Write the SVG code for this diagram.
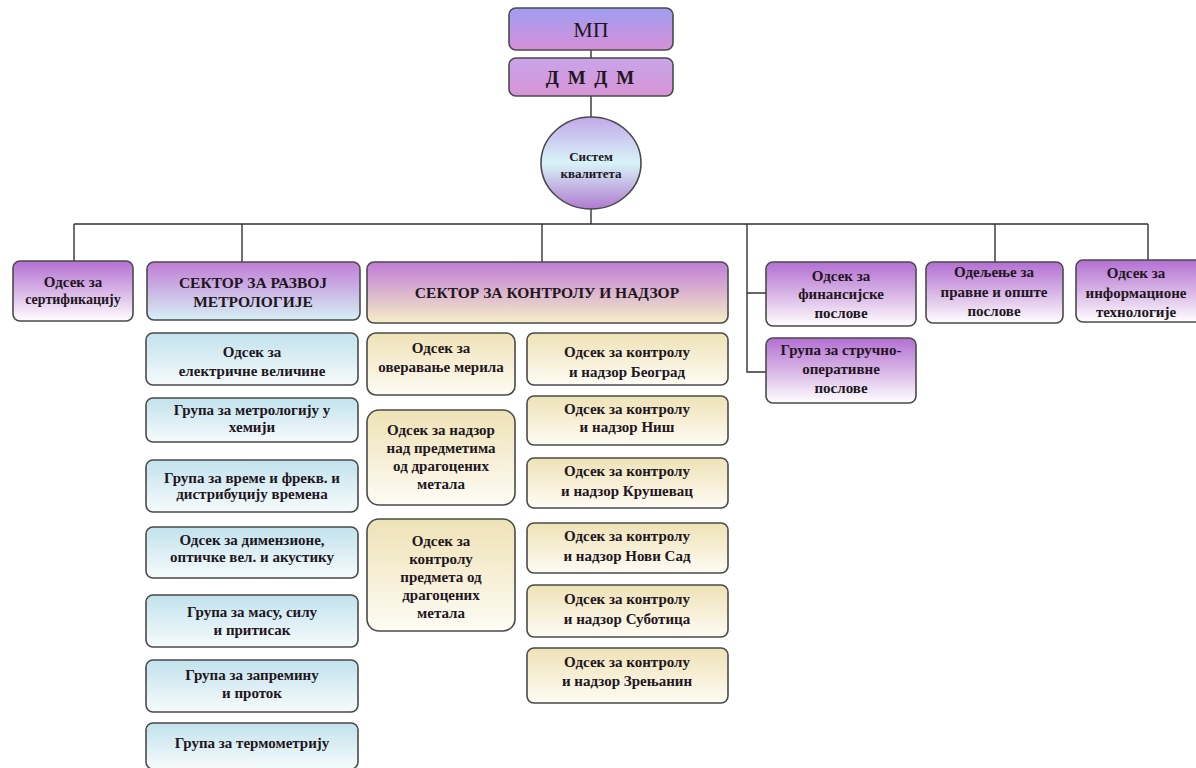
<svg xmlns="http://www.w3.org/2000/svg" width="1196" height="768" viewBox="0 0 1196 768">
<defs>
<linearGradient id="gTop" x1="0" y1="0" x2="0" y2="1"><stop offset="0" stop-color="#9e9ef2"/><stop offset="1" stop-color="#d690d8"/></linearGradient>
<linearGradient id="gTop2" x1="0" y1="0" x2="0" y2="1"><stop offset="0" stop-color="#c9a4ea"/><stop offset="1" stop-color="#d894d6"/></linearGradient>
<linearGradient id="gPur" x1="0" y1="0" x2="0" y2="1"><stop offset="0" stop-color="#b36fd2"/><stop offset="0.55" stop-color="#dcbce8"/><stop offset="1" stop-color="#ffffff"/></linearGradient>
<linearGradient id="gSecB" x1="0" y1="0" x2="0" y2="1"><stop offset="0" stop-color="#c07cd6"/><stop offset="1" stop-color="#d6f0f4"/></linearGradient>
<linearGradient id="gSecC" x1="0" y1="0" x2="0" y2="1"><stop offset="0" stop-color="#c07cd6"/><stop offset="1" stop-color="#f6eec6"/></linearGradient>
<linearGradient id="gBlue" x1="0" y1="0" x2="0" y2="1"><stop offset="0" stop-color="#c2e2ec"/><stop offset="1" stop-color="#f6fbfc"/></linearGradient>
<linearGradient id="gCream" x1="0" y1="0" x2="0" y2="1"><stop offset="0" stop-color="#eee2b6"/><stop offset="1" stop-color="#fefcf4"/></linearGradient>
<linearGradient id="gCirc" x1="0" y1="0" x2="0" y2="1"><stop offset="0" stop-color="#c2a8ea"/><stop offset="0.5" stop-color="#d8f4f8"/><stop offset="1" stop-color="#b07ad0"/></linearGradient>
</defs>
<style>
.b{stroke:#4a4a4a;stroke-width:1.6}
text{font-family:'Liberation Serif','Times New Roman','DejaVu Serif',serif;font-weight:bold;font-size:15px;fill:#22161e;text-anchor:middle}
.s{font-size:15.5px}
.c{stroke:#333;stroke-width:1.4;fill:none}
</style>
<rect width="1196" height="768" fill="#ffffff"/>
<g id="connectors">
<path class="c" d="M591 50V58M591 96V117M591 209V224M74 224H1148M74 224V261M242 224V262M542 224V262M747 224V372H766M747 293H766M995 224V262M1148 224V260"/>
</g>
<g id="mp"><rect class="b" x="509" y="8" width="164" height="42" rx="7" fill="url(#gTop)"/><text x="591" y="37" style="font-size:22px;font-weight:normal">МП</text></g>
<g id="dmdm"><rect class="b" x="509" y="58" width="164" height="38" rx="7" fill="url(#gTop2)"/><text x="591" y="84" style="font-size:19px;letter-spacing:2px">Д М Д М</text></g>
<g id="sistem"><ellipse class="b" cx="591" cy="163" rx="50" ry="46" fill="url(#gCirc)"/><text x="591" y="161" style="font-size:13px">Систем</text><text x="591" y="178" style="font-size:13px">квалитета</text></g>

<g id="sertifikacija"><rect class="b" x="13" y="261" width="120" height="60" rx="7" fill="url(#gPur)"/><text x="73" y="287">Одсек за</text><text x="73" y="304" style="font-size:14px">сертификацију</text></g>
<g id="sektor-razvoj"><rect class="b" x="147" y="262" width="213" height="58" rx="7" fill="url(#gSecB)"/><text class="s" x="253" y="288">СЕКТОР ЗА РАЗВОЈ</text><text class="s" x="253" y="307">МЕТРОЛОГИЈЕ</text></g>
<g id="sektor-kontrola"><rect class="b" x="367" y="262" width="361" height="61" rx="7" fill="url(#gSecC)"/><text class="s" x="547" y="298">СЕКТОР ЗА КОНТРОЛУ И НАДЗОР</text></g>
<g id="finansije"><rect class="b" x="766" y="262" width="150" height="64" rx="7" fill="url(#gPur)"/><text x="841" y="281">Одсек за</text><text x="841" y="299">финансијске</text><text x="841" y="318">послове</text></g>
<g id="strucno"><rect class="b" x="766" y="338" width="150" height="65" rx="7" fill="url(#gPur)"/><text x="841" y="355">Група за стручно-</text><text x="841" y="374">оперативне</text><text x="841" y="393">послове</text></g>
<g id="pravni"><rect class="b" x="926" y="262" width="137" height="61" rx="7" fill="url(#gPur)"/><text x="994" y="277">Одељење за</text><text x="994" y="297">правне и опште</text><text x="994" y="316">послове</text></g>
<g id="it"><rect class="b" x="1076" y="260" width="126" height="62" rx="7" fill="url(#gPur)"/><text x="1136" y="278">Одсек за</text><text x="1136" y="298">информационе</text><text x="1136" y="317">технологије</text></g>

<g id="r1"><rect class="b" x="146" y="333" width="212" height="52" rx="7" fill="url(#gBlue)"/><text x="252" y="357">Одсек за</text><text x="252" y="376">електричне величине</text></g>
<g id="r2"><rect class="b" x="146" y="398" width="212" height="44" rx="7" fill="url(#gBlue)"/><text x="252" y="415">Група за метрологију у</text><text x="252" y="432">хемији</text></g>
<g id="r3"><rect class="b" x="146" y="460" width="212" height="52" rx="7" fill="url(#gBlue)"/><text x="252" y="483">Група за време и фрекв. и</text><text x="252" y="499">дистрибуцију  времена</text></g>
<g id="r4"><rect class="b" x="146" y="527" width="212" height="51" rx="7" fill="url(#gBlue)"/><text x="252" y="545">Одсек за димензионе,</text><text x="252" y="562">оптичке вел. и акустику</text></g>
<g id="r5"><rect class="b" x="146" y="595" width="212" height="52" rx="7" fill="url(#gBlue)"/><text x="252" y="617">Група за масу, силу</text><text x="252" y="635">и притисак</text></g>
<g id="r6"><rect class="b" x="146" y="660" width="212" height="52" rx="7" fill="url(#gBlue)"/><text x="252" y="680">Група за запремину</text><text x="252" y="698">и проток</text></g>
<g id="r7"><rect class="b" x="146" y="723" width="212" height="46" rx="7" fill="url(#gBlue)"/><text x="252" y="748">Група за термометрију</text></g>

<g id="k1"><rect class="b" x="367" y="333" width="148" height="62" rx="9" fill="url(#gCream)"/><text x="441" y="353">Одсек за</text><text x="441" y="372">оверавање  мерила</text></g>
<g id="k2"><rect class="b" x="367" y="410" width="148" height="95" rx="12" fill="url(#gCream)"/><text x="441" y="435">Одсек за надзор</text><text x="441" y="453">над предметима</text><text x="441" y="471">од драгоцених</text><text x="441" y="489">метала</text></g>
<g id="k3"><rect class="b" x="367" y="519" width="148" height="112" rx="12" fill="url(#gCream)"/><text x="441" y="546">Одсек за</text><text x="441" y="564">контролу</text><text x="441" y="582">предмета од</text><text x="441" y="600">драгоцених</text><text x="441" y="618">метала</text></g>

<g id="beograd"><rect class="b" x="527" y="333" width="201" height="52" rx="7" fill="url(#gCream)"/><text x="627" y="357">Одсек за контролу</text><text x="627" y="377">и надзор Београд</text></g>
<g id="nis"><rect class="b" x="527" y="396" width="201" height="49" rx="7" fill="url(#gCream)"/><text x="627" y="414">Одсек за контролу</text><text x="627" y="432">и надзор Ниш</text></g>
<g id="krusevac"><rect class="b" x="527" y="458" width="201" height="50" rx="7" fill="url(#gCream)"/><text x="627" y="476">Одсек за контролу</text><text x="627" y="496">и надзор Крушевац</text></g>
<g id="novisad"><rect class="b" x="527" y="523" width="201" height="50" rx="7" fill="url(#gCream)"/><text x="627" y="541">Одсек за контролу</text><text x="627" y="561">и надзор Нови Сад</text></g>
<g id="subotica"><rect class="b" x="527" y="585" width="201" height="52" rx="7" fill="url(#gCream)"/><text x="627" y="604">Одсек за контролу</text><text x="627" y="624">и надзор Суботица</text></g>
<g id="zrenjanin"><rect class="b" x="527" y="648" width="201" height="55" rx="7" fill="url(#gCream)"/><text x="627" y="667">Одсек за контролу</text><text x="627" y="686">и надзор Зрењанин</text></g>
</svg>
